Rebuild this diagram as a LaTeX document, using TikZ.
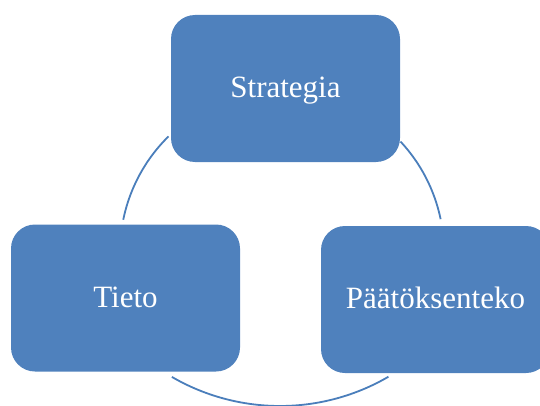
\documentclass[tikz,border=0pt]{standalone}
\usepackage{fontspec}
\setmainfont{Liberation Serif}
\usetikzlibrary{calc}
\definecolor{boxblue}{HTML}{4F81BD}
\definecolor{ringblue}{HTML}{4A7EBB}
\begin{document}
\begin{tikzpicture}[x=1pt,y=1pt,
  block/.style={rectangle, rounded corners=24pt, fill=boxblue, draw=none,
    minimum width=229pt, minimum height=147pt, inner sep=0pt, text=white,
    font=\fontsize{31}{37}\selectfont, text height=24pt, text depth=6pt},
  ring/.style={draw=ringblue, line width=1.8pt}]
\clip (0,0) rectangle (540,405);

% the three stages
\node[block] (strat) at (285.5,316.5) {Strategia};
\node[block] (tieto) at (125.5,107) {Tieto};
\node[block] (paat)  at (435.5,105.5) {Päätöksenteko};

% centres of the connecting arcs
\coordinate (hub) at (282,153);
\coordinate (low) at (280,214.6);

% arc ends next to the boxes
\coordinate (st1) at ($(hub)+(134.5:162)$);
\coordinate (ti1) at ($(hub)+(168.5:162)$);
\coordinate (st2) at ($(hub)+(43:162)$);
\coordinate (pa1) at ($(hub)+(11.7:162)$);
\coordinate (ti2) at ($(low)+(239.9:215.6)$);
\coordinate (pa2) at ($(low)+(300.2:215.6)$);

% connecting ring
\draw[ring] (st1) arc[start angle=134.5, end angle=168.5, radius=162];
\draw[ring] (st2) arc[start angle=43, end angle=11.7, radius=162];
\draw[ring] (ti2) arc[start angle=239.9, end angle=300.2, radius=215.6];
\end{tikzpicture}
\end{document}
